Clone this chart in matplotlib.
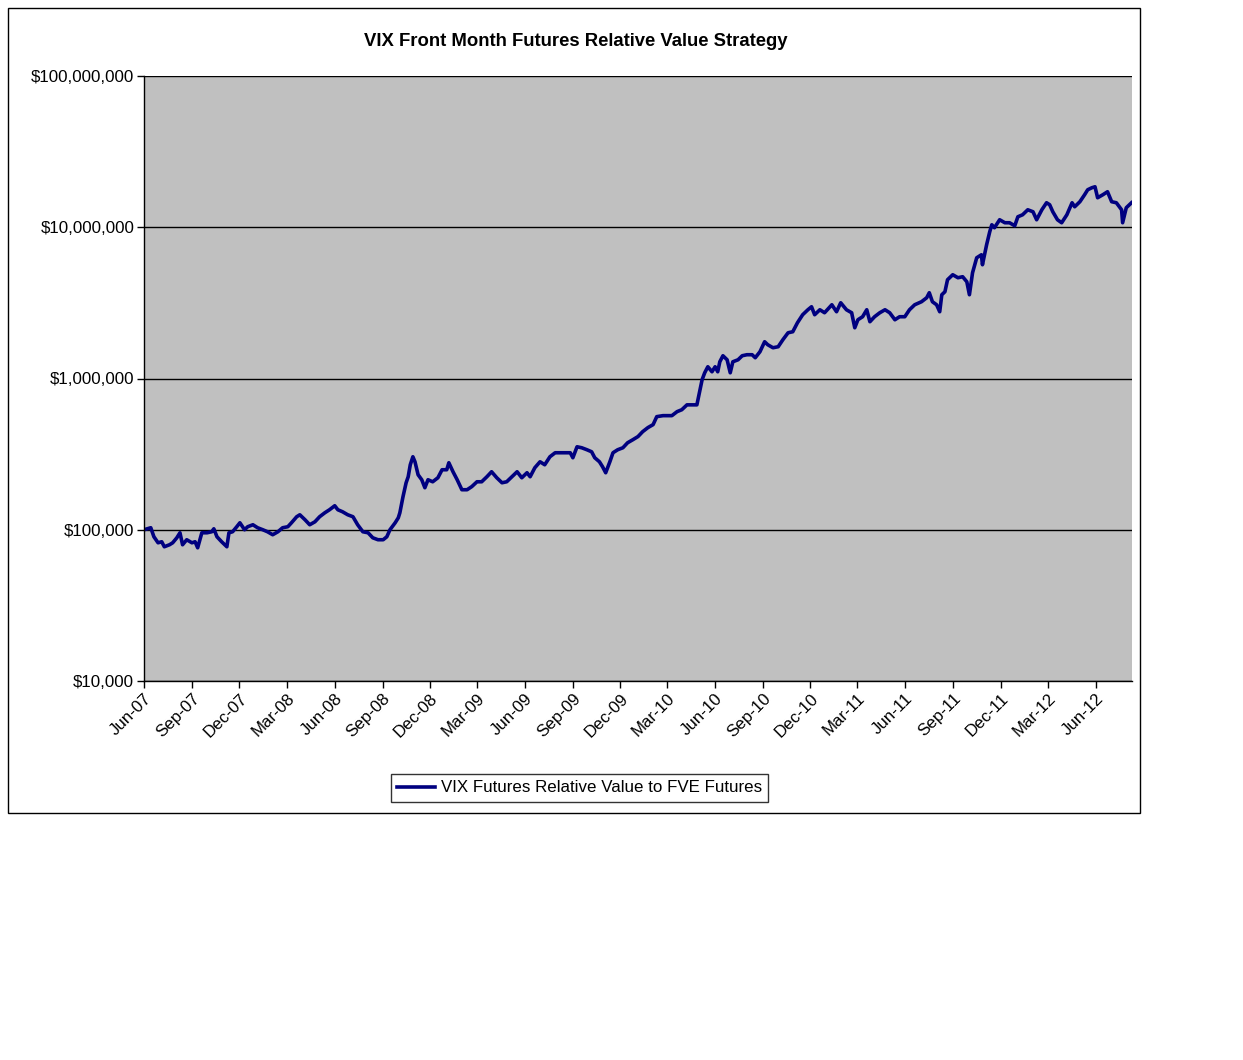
import matplotlib
matplotlib.use("Agg")
import matplotlib.pyplot as plt
import matplotlib.dates as mdates
import matplotlib.ticker as mticker
import pandas as pd

plt.rcParams['font.family'] = ['Liberation Sans', 'DejaVu Sans']

# Inputs
title = 'VIX Front Month Futures Relative Value Strategy'
series_label = 'VIX Futures Relative Value to FVE Futures'

dates = [
    '2007-06-01', '2007-06-14', '2007-06-20', '2007-06-28', '2007-07-05', '2007-07-10',
    '2007-07-20', '2007-07-26', '2007-08-03', '2007-08-09', '2007-08-14', '2007-08-22',
    '2007-09-01', '2007-09-07', '2007-09-12', '2007-09-20', '2007-09-30', '2007-10-09',
    '2007-10-13', '2007-10-19', '2007-10-28', '2007-11-03', '2007-11-07', '2007-11-11',
    '2007-11-18', '2007-11-26', '2007-12-02', '2007-12-11', '2007-12-17', '2007-12-27',
    '2008-01-05', '2008-01-15', '2008-01-24', '2008-02-03', '2008-02-13', '2008-02-22',
    '2008-03-03', '2008-03-10', '2008-03-20', '2008-03-26', '2008-04-05', '2008-04-14',
    '2008-04-24', '2008-05-03', '2008-05-13', '2008-05-22', '2008-06-01', '2008-06-07',
    '2008-06-16', '2008-06-26', '2008-07-06', '2008-07-15', '2008-07-25', '2008-08-04',
    '2008-08-13', '2008-08-23', '2008-09-02', '2008-09-09', '2008-09-15', '2008-09-25',
    '2008-10-01', '2008-10-04', '2008-10-10', '2008-10-16', '2008-10-20', '2008-10-24',
    '2008-10-29', '2008-11-02', '2008-11-08', '2008-11-15', '2008-11-21', '2008-11-27',
    '2008-12-06', '2008-12-16', '2008-12-24', '2009-01-02', '2009-01-06', '2009-01-14',
    '2009-01-22', '2009-01-31', '2009-02-10', '2009-02-19', '2009-03-01', '2009-03-10',
    '2009-03-20', '2009-03-29', '2009-04-08', '2009-04-18', '2009-04-27', '2009-05-07',
    '2009-05-17', '2009-05-26', '2009-06-05', '2009-06-11', '2009-06-20', '2009-06-30',
    '2009-07-09', '2009-07-19', '2009-07-29', '2009-08-07', '2009-08-17', '2009-08-27',
    '2009-09-01', '2009-09-09', '2009-09-18', '2009-09-28', '2009-10-07', '2009-10-13',
    '2009-10-22', '2009-10-28', '2009-11-03', '2009-11-11', '2009-11-17', '2009-11-26',
    '2009-12-06', '2009-12-15', '2009-12-25', '2010-01-04', '2010-01-13', '2010-01-23',
    '2010-02-02', '2010-02-09', '2010-02-21', '2010-03-10', '2010-03-20', '2010-03-29',
    '2010-04-08', '2010-04-17', '2010-04-27', '2010-05-01', '2010-05-07', '2010-05-12',
    '2010-05-18', '2010-05-26', '2010-06-01', '2010-06-06', '2010-06-10', '2010-06-16',
    '2010-06-24', '2010-06-30', '2010-07-05', '2010-07-15', '2010-07-23', '2010-08-01',
    '2010-08-11', '2010-08-17', '2010-08-26', '2010-09-04', '2010-09-10', '2010-09-20',
    '2010-09-30', '2010-10-09', '2010-10-19', '2010-10-28', '2010-11-06', '2010-11-16',
    '2010-11-26', '2010-12-03', '2010-12-09', '2010-12-19', '2010-12-28', '2011-01-11',
    '2011-01-20', '2011-01-28', '2011-02-08', '2011-02-18', '2011-02-24', '2011-03-02',
    '2011-03-11', '2011-03-19', '2011-03-25', '2011-04-03', '2011-04-13', '2011-04-23',
    '2011-05-02', '2011-05-12', '2011-05-21', '2011-05-31', '2011-06-09', '2011-06-19',
    '2011-07-02', '2011-07-12', '2011-07-17', '2011-07-23', '2011-07-31', '2011-08-06',
    '2011-08-10', '2011-08-16', '2011-08-21', '2011-08-31', '2011-09-10', '2011-09-19',
    '2011-09-27', '2011-10-02', '2011-10-08', '2011-10-16', '2011-10-25', '2011-10-27',
    '2011-11-04', '2011-11-10', '2011-11-14', '2011-11-19', '2011-11-29', '2011-12-09',
    '2011-12-18', '2011-12-28', '2012-01-03', '2012-01-12', '2012-01-22', '2012-02-01',
    '2012-02-08', '2012-02-18', '2012-02-27', '2012-03-04', '2012-03-10', '2012-03-19',
    '2012-03-27', '2012-04-06', '2012-04-16', '2012-04-21', '2012-05-01', '2012-05-10',
    '2012-05-16', '2012-05-24', '2012-05-30', '2012-06-04', '2012-06-14', '2012-06-23',
    '2012-07-01', '2012-07-10', '2012-07-20', '2012-07-22', '2012-07-29', '2012-08-08',
]

values = [
    100000, 103100, 89900, 82000, 83300, 77200,
    79600, 82000, 88500, 95500, 79600, 85900,
    82000, 83300, 76000, 95500, 95500, 97000,
    101500, 89900, 83300, 79600, 77200, 95500,
    97000, 104700, 111200, 100000, 104700, 107900,
    103100, 100000, 97000, 92700, 97000, 103100,
    104700, 111200, 121900, 125600, 116400, 107900,
    112900, 121900, 129500, 135600, 144100, 135600,
    131500, 125600, 121900, 107900, 97000, 95500,
    88500, 85900, 85900, 89900, 100000, 111200,
    120000, 129500, 165200, 204500, 224100, 269000,
    303800, 281500, 231000, 214100, 189600, 214100,
    207600, 220700, 249300, 249300, 277300, 241800,
    214100, 183900, 183900, 192800, 207600, 207600,
    224100, 241800, 220700, 204500, 207600, 224100,
    241800, 220700, 238200, 224100, 257000, 281500,
    269000, 303800, 322900, 322900, 322900, 322900,
    299300, 353700, 348400, 338000, 327800, 299300,
    281500, 260900, 238200, 281500, 322900, 338000,
    348400, 375900, 393600, 413200, 445300, 473500,
    495600, 559500, 568000, 568000, 603800, 621500,
    669600, 669600, 669600, 779300, 981000, 1091000,
    1196000, 1108000, 1196000, 1108000, 1290000, 1414000,
    1330000, 1091000, 1290000, 1330000, 1414000, 1436000,
    1436000, 1372000, 1502000, 1750000, 1672000, 1597000,
    1622000, 1804000, 2006000, 2038000, 2337000, 2640000,
    2848000, 2981000, 2640000, 2848000, 2721000, 3073000,
    2763000, 3168000, 2848000, 2721000, 2165000, 2446000,
    2561000, 2848000, 2373000, 2561000, 2721000, 2848000,
    2721000, 2446000, 2561000, 2561000, 2848000, 3073000,
    3217000, 3419000, 3690000, 3217000, 3073000, 2763000,
    3579000, 3746000, 4498000, 4853000, 4637000, 4708000,
    4362000, 3579000, 5003000, 6284000, 6578000, 5651000,
    7661000, 9338000, 10388000, 9924000, 11210000, 10710000,
    10710000, 10230000, 11730000, 12090000, 13050000, 12660000,
    11210000, 13050000, 14520000, 14090000, 12660000, 11210000,
    10710000, 12090000, 14520000, 13660000, 14750000, 16400000,
    17700000, 18250000, 18520000, 15670000, 16400000, 17170000,
    14750000, 14520000, 13050000, 10710000, 13460000, 14520000,
]

x_start, x_end = '2007-06-01', '2012-08-09'
y_min, y_max = 1e4, 1e8

df = pd.DataFrame({'date': pd.to_datetime(dates), 'value': values})

fig = plt.figure(figsize=(12.43, 10.60), dpi=100)
fig.patch.set_facecolor('white')

# chart area border
border = plt.Rectangle((8 / 1243, 1 - 813 / 1060), 1132 / 1243, 805 / 1060,
                       transform=fig.transFigure, fill=False, edgecolor='black', linewidth=1)
fig.patches.append(border)

ax = fig.add_axes([144 / 1243, 1 - 681 / 1060, 988 / 1243, 605 / 1060])
ax.set_facecolor('#C0C0C0')

ax.plot(df['date'], df['value'], color='#000080', linewidth=2.6, label=series_label)

ax.set_yscale('log')
ax.set_ylim(y_min, y_max)
ax.set_xlim(pd.Timestamp(x_start), pd.Timestamp(x_end))

ax.yaxis.set_major_locator(mticker.LogLocator(base=10, numticks=10))
ax.yaxis.set_minor_locator(mticker.NullLocator())
ax.yaxis.set_major_formatter(mticker.FuncFormatter(lambda v, p: '${:,.0f}'.format(v)))
ax.grid(axis='y', color='black', linewidth=1)

ax.xaxis.set_major_locator(mdates.MonthLocator(bymonth=[3, 6, 9, 12]))
ax.xaxis.set_major_formatter(mdates.DateFormatter('%b-%y'))

for s in ['top', 'right']:
    ax.spines[s].set_visible(False)
ax.spines['left'].set_linewidth(1)
ax.spines['bottom'].set_linewidth(1)

ax.tick_params(axis='both', direction='out', length=5, width=1, colors='black', labelsize=12.2)
ax.tick_params(axis='y', pad=2)
ax.tick_params(axis='x', pad=2)
for lbl in ax.get_xticklabels():
    lbl.set_rotation(45)
    lbl.set_ha('right')
    lbl.set_va('top')
    lbl.set_rotation_mode('anchor')

fig.text(576 / 1243, 1 - 41 / 1060, title, ha='center', va='center',
         fontsize=13.3, fontweight='bold')

leg = fig.legend(loc='center', bbox_to_anchor=(579.5 / 1243, 1 - 788 / 1060),
                 frameon=True, fancybox=False, edgecolor='black', fontsize=12.2,
                 handlelength=2.2, borderpad=0.4, handletextpad=0.35)
leg.get_frame().set_linewidth(1)

fig.savefig('out.png', dpi=100, facecolor='white')
